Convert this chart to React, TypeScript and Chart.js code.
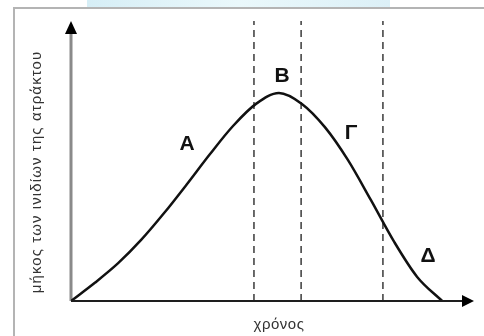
import React, { useEffect, useRef } from "react";
import { Chart, registerables } from "chart.js";

Chart.register(...registerables);

// Length of the spindle fibres over time (arbitrary units, 0–100 on both axes)
const timeValues = [0, 6.0, 11.7, 17.4, 23.1, 28.8, 34.5, 40.2, 45.9, 51.6, 57.3, 63.0, 68.7, 74.4, 80.2, 85.9, 92.1];
const fibreLength = [0, 6.6, 13.5, 21.8, 31.4, 41.8, 52.5, 62.5, 70.4, 74.3, 70.4, 62.1, 50.4, 36.1, 21.1, 8.6, 0];

// Phase boundaries drawn as dashed verticals
const phaseBounds = [45.4, 57.1, 77.4];

// Phase letters and where they sit in data units
const phaseLabels = ["Α", "Β", "Γ", "Δ"];
const phaseLabelX = [28.8, 52.4, 69.5, 88.6];
const phaseLabelY = [56.1, 80.4, 60.0, 16.1];

const xTitle = "χρόνος";
const yTitle = "μήκος των ινιδίων της ατράκτου";

const FONT = "'Liberation Sans', Arial, sans-serif";

const decorPlugin = {
  id: "decor",
  beforeDatasetsDraw(chart: any) {
    const { ctx, chartArea } = chart;
    const x0 = chartArea.left;
    const y0 = chartArea.bottom;
    ctx.save();
    // frame lines
    ctx.strokeStyle = "#b4b4b4";
    ctx.lineWidth = 2;
    ctx.beginPath();
    ctx.moveTo(14, 336);
    ctx.lineTo(14, 8);
    ctx.lineTo(484, 8);
    ctx.stroke();
    // y axis (grey) with arrow
    ctx.strokeStyle = "#8a8a8a";
    ctx.lineWidth = 3;
    ctx.beginPath();
    ctx.moveTo(x0, y0);
    ctx.lineTo(x0, chartArea.top + 12);
    ctx.stroke();
    ctx.fillStyle = "#000";
    ctx.beginPath();
    ctx.moveTo(x0, chartArea.top);
    ctx.lineTo(x0 - 6, chartArea.top + 13);
    ctx.lineTo(x0 + 6, chartArea.top + 13);
    ctx.closePath();
    ctx.fill();
    ctx.restore();
  },
  afterDatasetsDraw(chart: any) {
    const { ctx, chartArea, scales } = chart;
    const x0 = chartArea.left;
    const y0 = chartArea.bottom;
    ctx.save();
    // x axis with arrow
    ctx.strokeStyle = "#1e1e1e";
    ctx.lineWidth = 2;
    ctx.beginPath();
    ctx.moveTo(x0, y0);
    ctx.lineTo(chartArea.right - 10, y0);
    ctx.stroke();
    ctx.fillStyle = "#000";
    ctx.beginPath();
    ctx.moveTo(chartArea.right, y0);
    ctx.lineTo(chartArea.right - 12, y0 - 6);
    ctx.lineTo(chartArea.right - 12, y0 + 6);
    ctx.closePath();
    ctx.fill();

    // phase letters
    ctx.fillStyle = "#111";
    ctx.font = `bold 21px ${FONT}`;
    ctx.textAlign = "center";
    ctx.textBaseline = "middle";
    phaseLabels.forEach((t, i) => {
      ctx.fillText(t, scales.x.getPixelForValue(phaseLabelX[i]), scales.y.getPixelForValue(phaseLabelY[i]));
    });

    // axis titles
    ctx.fillStyle = "#333";
    ctx.font = `15px ${FONT}`;
    ctx.letterSpacing = "0.5px";
    ctx.fillText(xTitle, scales.x.getPixelForValue(51.6), y0 + 24);
    ctx.translate(37, 172);
    ctx.rotate(-Math.PI / 2);
    ctx.letterSpacing = "1.1px";
    ctx.fillText(yTitle, 0, 0);
    ctx.restore();
  },
};

export default function App() {
  const ref = useRef<HTMLCanvasElement>(null);

  useEffect(() => {
    if (!ref.current) return;
    const dashed = phaseBounds.map((b) => ({
      data: [
        { x: b, y: 0 },
        { x: b, y: 100 },
      ],
      borderColor: "#3a3a3a",
      borderWidth: 1.5,
      borderDash: [7, 5],
      pointRadius: 0,
      fill: false,
    }));
    const chart = new Chart(ref.current, {
      type: "line",
      data: {
        datasets: [
          {
            data: timeValues.map((x, i) => ({ x, y: fibreLength[i] })),
            borderColor: "#111",
            borderWidth: 2.5,
            pointRadius: 0,
            cubicInterpolationMode: "monotone",
            fill: false,
          },
          ...dashed,
        ],
      },
      options: {
        animation: false,
        responsive: false,
        layout: { padding: { left: 71, right: 10, top: 21, bottom: 35 } },
        scales: {
          x: { type: "linear", min: 0, max: 100, display: false },
          y: { min: 0, max: 100, display: false },
        },
        plugins: { legend: { display: false }, tooltip: { enabled: false } },
      },
      plugins: [decorPlugin],
    });
    return () => chart.destroy();
  }, []);

  return (
    <div style={{ position: "fixed", left: 0, top: 0, width: 484, height: 336, background: "#fff" }}>
      <div
        style={{
          position: "absolute",
          left: 87,
          top: 0,
          width: 303,
          height: 7,
          background: "linear-gradient(90deg, #d6eef6, #eaf8fb 50%, #dcf0f7)",
        }}
      />
      <canvas ref={ref} width={484} height={336} style={{ position: "absolute", left: 0, top: 0 }} />
    </div>
  );
}
